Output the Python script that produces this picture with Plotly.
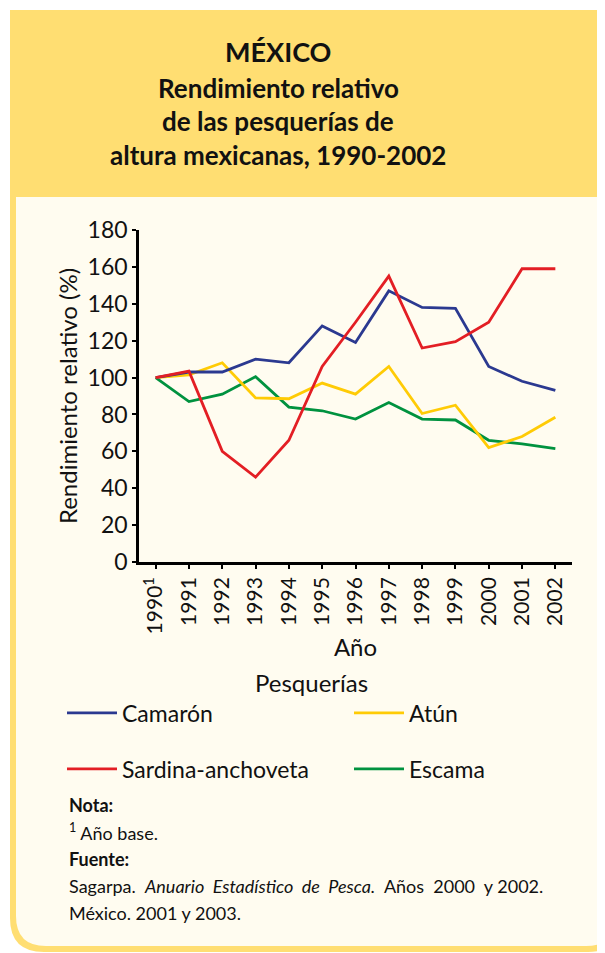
import plotly.graph_objects as go

years = [1990, 1991, 1992, 1993, 1994, 1995, 1996, 1997, 1998, 1999, 2000, 2001, 2002]
year_labels = ["1990<sup>1</sup>"] + [str(y) for y in years[1:]]
camaron = [100, 103, 103, 110, 108, 128, 119, 147, 138, 137.5, 106, 98, 93]
sardina = [100, 103.5, 60, 46, 66, 106, 130, 155, 116, 119.5, 130, 159, 159]
atun = [100, 101.5, 108, 89, 88.5, 97, 91, 106, 80.5, 85, 62, 68, 78.5]
escama = [100, 87, 91, 100.5, 84, 82, 77.5, 86.5, 77.5, 77, 66, 64, 61.5]

OFF = 8  # page body margin
W, H = 605 - OFF, 953 - OFF
ML, MR, MT, MB = 139 - OFF, 33, 230 - OFF, 391
PW = W - ML - MR
PH = H - MT - MB

def px(x):
    return (x - OFF - ML) / PW

def py(y):
    return 1 - (y - OFF - MT) / PH

FONT = "Lato"
BLUE = "#2b3990"
RED = "#e31e24"
YEL = "#ffcb05"
GRN = "#00923f"
HEADER = "#ffde72"
CREAM = "#fffcf0"
TXT = "#111111"

fig = go.Figure()
series = {
    "Camarón": (camaron, BLUE, "legend", 68, 713),
    "Atún": (atun, YEL, "legend2", 355, 713),
    "Sardina-anchoveta": (sardina, RED, "legend3", 68, 769),
    "Escama": (escama, GRN, "legend4", 355, 769),
}
for name in ["Escama", "Atún", "Camarón", "Sardina-anchoveta"]:
    vals, col, lg, _, _ = series[name]
    fig.add_trace(go.Scatter(x=years, y=vals, mode="lines", name=name, showlegend=True,
                             line=dict(color=col, width=2.8), legend=lg))

def rounded_path(x0, y0, x1, y1, r):
    pts = [
        f"M {px(x0)},{py(y0)}",
        f"L {px(x1)},{py(y0)}",
        f"L {px(x1)},{py(y1 - r)}",
        f"Q {px(x1)},{py(y1)} {px(x1 - r)},{py(y1)}",
        f"L {px(x0 + r)},{py(y1)}",
        f"Q {px(x0)},{py(y1)} {px(x0)},{py(y1 - r)}",
        "Z",
    ]
    return " ".join(pts)

shapes = [
    dict(type="path", xref="paper", yref="paper", path=rounded_path(10, 10, 622, 952, 34),
         fillcolor=HEADER, line=dict(width=0), layer="below"),
    dict(type="path", xref="paper", yref="paper", path=rounded_path(16, 197, 616, 946, 30),
         fillcolor=CREAM, line=dict(width=0), layer="below"),
]

annotations = []
title_lines = [("MÉXICO", 51), ("Rendimiento relativo", 88), ("de las pesquerías de", 121), ("altura mexicanas, 1990-2002", 155)]
for i, (txt, yc) in enumerate(title_lines):
    annotations.append(dict(text=f"<b>{txt}</b>", x=px(278), y=py(yc), xref="paper", yref="paper",
                            xanchor="center", yanchor="middle", showarrow=False,
                            font=dict(family=FONT, size=27 if i == 0 else 26, color=TXT)))
annotations.append(dict(text="Pesquerías", x=px(311), y=py(682), xref="paper", yref="paper",
                        xanchor="center", yanchor="middle", showarrow=False,
                        font=dict(family=FONT, size=24, color=TXT)))
NB = " \u00a0"
notes = [
    ("<b>Nota:</b>", 805),
    ("<sup>1</sup> Año base.", 832),
    ("<b>Fuente:</b>", 859),
    (f"Sagarpa.{NB}<i>Anuario{NB}Estadístico{NB}de{NB}Pesca.</i>{NB}Años{NB}2000{NB}y 2002.", 886),
    ("México. 2001 y 2003.", 913),
]
for txt, yc in notes:
    annotations.append(dict(text=txt, x=px(67), y=py(yc), xref="paper", yref="paper",
                            xanchor="left", yanchor="middle", showarrow=False,
                            font=dict(family=FONT, size=18, color=TXT)))

legends = {}
for name, (vals, col, lg, lx, ly) in series.items():
    legends[lg] = dict(orientation="v", xref="paper", yref="paper", visible=True,
                       x=px(lx - 6), y=py(ly), xanchor="left", yanchor="middle",
                       itemwidth=50, bgcolor="rgba(0,0,0,0)", borderwidth=0,
                       font=dict(family=FONT, size=23, color=TXT))

fig.update_layout(
    width=W, height=H,
    showlegend=True,
    margin=dict(l=ML, r=MR, t=MT, b=MB, autoexpand=False),
    paper_bgcolor="white",
    plot_bgcolor="rgba(0,0,0,0)",
    font=dict(family=FONT, color=TXT),
    shapes=shapes,
    annotations=annotations,
    xaxis=dict(
        tickmode="array", tickvals=years, ticktext=year_labels, tickangle=-90,
        range=[1989.5, 2002.5], showgrid=False, zeroline=False,
        showline=True, linecolor="black", linewidth=2.5,
        ticks="outside", ticklen=4, tickwidth=2, tickcolor="black",
        tickfont=dict(family=FONT, size=21, color=TXT),
        title=dict(text="Año", font=dict(family=FONT, size=24, color=TXT), standoff=6),
    ),
    yaxis=dict(
        range=[0, 180], tickmode="array", tickvals=list(range(0, 181, 20)),
        showgrid=False, zeroline=False,
        showline=True, linecolor="black", linewidth=2.5,
        ticks="outside", ticklen=4, tickwidth=2, tickcolor="black",
        tickfont=dict(family=FONT, size=23, color=TXT),
        title=dict(text="Rendimiento relativo (%)", font=dict(family=FONT, size=24, color=TXT), standoff=4),
    ),
    **legends,
)

fig.write_html("out.html")
